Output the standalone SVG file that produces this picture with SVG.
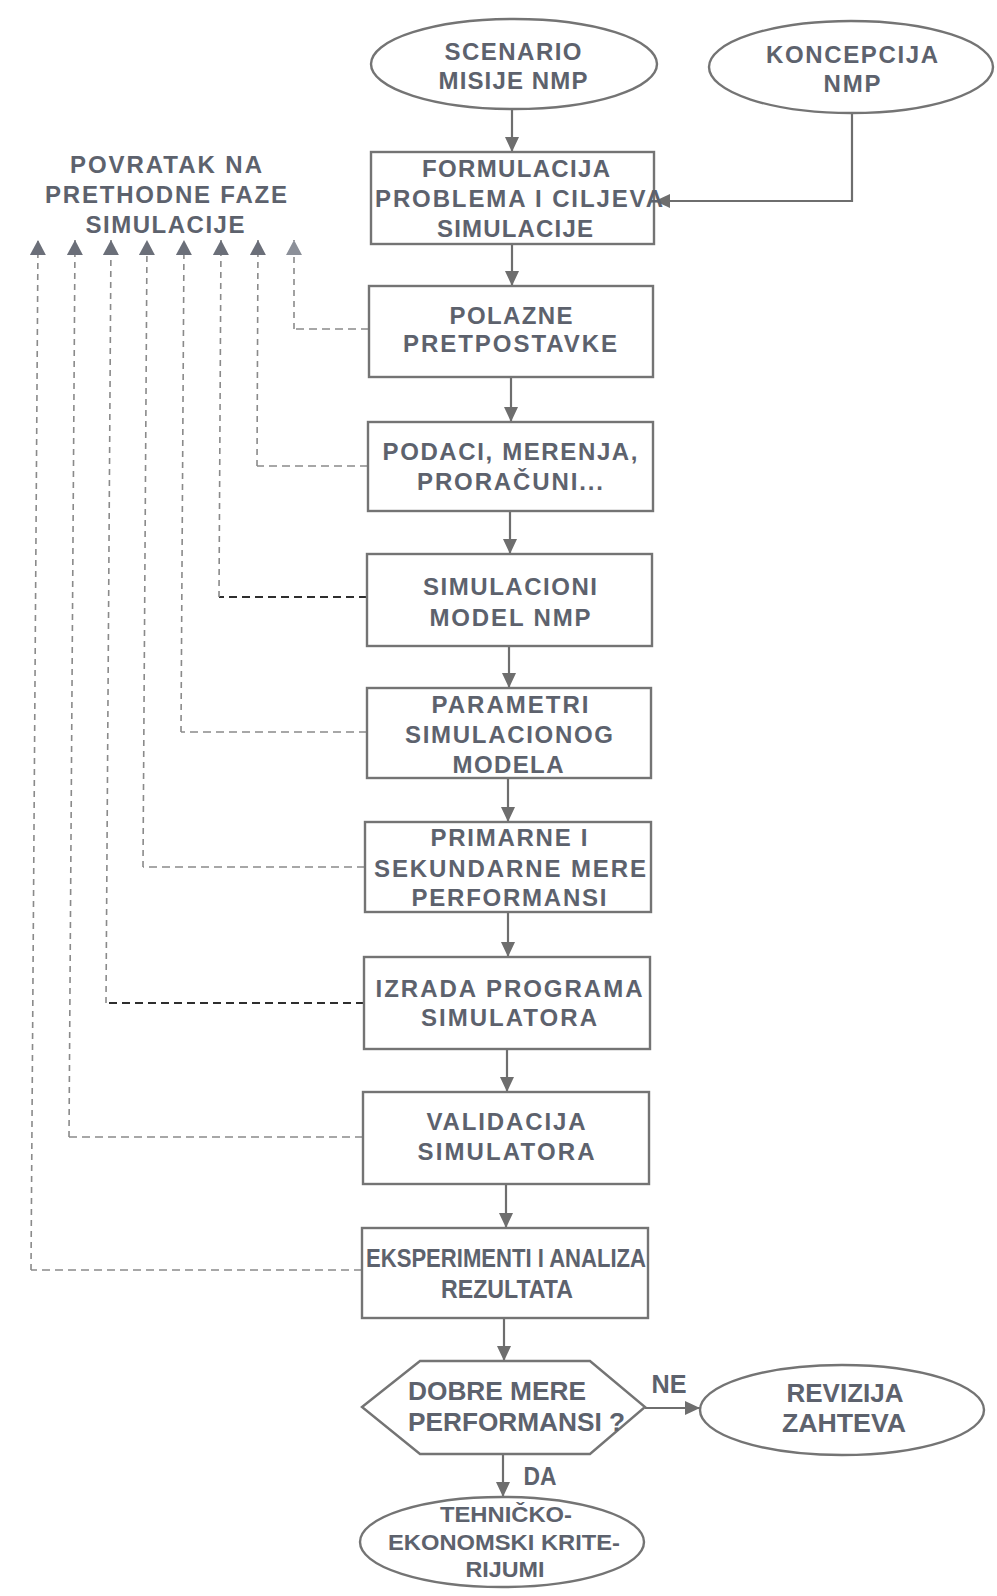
<svg xmlns="http://www.w3.org/2000/svg" width="997" height="1596" viewBox="0 0 997 1596">
<style>
.bg{fill:#fff}
.box{fill:#fff;stroke:#747474;stroke-width:2.4}
.t{font-family:"Liberation Sans",Arial,sans-serif;font-weight:bold;font-size:24px;fill:#5d626d;text-anchor:middle}
.b{font-size:25px}
.s{font-size:22px}
.ts{text-anchor:start}
.conn{stroke:#6e6e6e;stroke-width:2.2;fill:none}
.dash{stroke:#8a8a8a;stroke-width:1.6;fill:none;stroke-dasharray:6 5}
.dh{stroke:#8a8a8a;stroke-width:1.6;fill:none;stroke-dasharray:8 5}
.dark{stroke:#2e2e2e;stroke-width:1.8}
</style>
<defs>
<marker id="ah" viewBox="0 0 15 14" refX="15" refY="7" markerWidth="15" markerHeight="14" orient="auto" markerUnits="userSpaceOnUse"><path d="M0,0 L15,7 L0,14 z" fill="#6e6e6e"/></marker>
<marker id="ad" viewBox="0 0 15 16" refX="15" refY="8" markerWidth="15" markerHeight="16" orient="auto" markerUnits="userSpaceOnUse"><path d="M0,0 L15,8 L0,16 z" fill="#6b6f79"/></marker>
<marker id="adl" viewBox="0 0 15 16" refX="15" refY="8" markerWidth="15" markerHeight="16" orient="auto" markerUnits="userSpaceOnUse"><path d="M0,0 L15,8 L0,16 z" fill="#8c9099"/></marker>
</defs>
<rect class="bg" x="0" y="0" width="997" height="1596"/>

<g id="connectors">
<path class="conn" d="M512,110 V152" marker-end="url(#ah)"/>
<path class="conn" d="M852,113 V201 H655" marker-end="url(#ah)"/>
<path class="conn" d="M512,244 V286" marker-end="url(#ah)"/>
<path class="conn" d="M511,377 V422" marker-end="url(#ah)"/>
<path class="conn" d="M510,511 V554" marker-end="url(#ah)"/>
<path class="conn" d="M509,646 V688" marker-end="url(#ah)"/>
<path class="conn" d="M508,778 V822" marker-end="url(#ah)"/>
<path class="conn" d="M508,912 V957" marker-end="url(#ah)"/>
<path class="conn" d="M507,1049 V1092" marker-end="url(#ah)"/>
<path class="conn" d="M506,1184 V1228" marker-end="url(#ah)"/>
<path class="conn" d="M504,1318 V1361" marker-end="url(#ah)"/>
<path class="conn" d="M645,1408 H700" marker-end="url(#ah)"/>
<path class="conn" d="M503,1454 V1497" marker-end="url(#ah)"/>

<path class="dh" d="M369,329 H294"/>
<path class="dash" d="M294,329 V240" marker-end="url(#adl)"/>
<path class="dh" d="M368,466 H257"/>
<path class="dash" d="M257,466 L258,240" marker-end="url(#ad)"/>
<path class="dh dark" d="M367,597 H219"/>
<path class="dash" d="M219,597 L221,240" marker-end="url(#ad)"/>
<path class="dh" d="M367,732 H181"/>
<path class="dash" d="M181,732 L184,240" marker-end="url(#ad)"/>
<path class="dh" d="M365,867 H143"/>
<path class="dash" d="M143,867 L147,240" marker-end="url(#ad)"/>
<path class="dh dark" d="M364,1003 H106"/>
<path class="dash" d="M106,1003 L111,240" marker-end="url(#ad)"/>
<path class="dh" d="M363,1137 H69"/>
<path class="dash" d="M69,1137 L75,240" marker-end="url(#ad)"/>
<path class="dh" d="M362,1270 H31"/>
<path class="dash" d="M31,1270 L38,240" marker-end="url(#ad)"/>
</g>

<g id="povratak">
<text class="t" x="166" y="173" textLength="192">POVRATAK NA</text>
<text class="t" x="166" y="203" textLength="242">PRETHODNE FAZE</text>
<text class="t" x="165" y="233" textLength="159">SIMULACIJE</text>
</g>

<g id="scenario">
<ellipse class="box" cx="514" cy="64" rx="143" ry="45"/>
<text class="t" x="513" y="60" textLength="137">SCENARIO</text>
<text class="t" x="513" y="89" textLength="149">MISIJE NMP</text>
</g>

<g id="koncepcija">
<ellipse class="box" cx="851" cy="67" rx="142" ry="46"/>
<text class="t" x="852" y="63" textLength="172">KONCEPCIJA</text>
<text class="t" x="852" y="92" textLength="57">NMP</text>
</g>

<g id="formulacija">
<rect class="box" x="371" y="152" width="283" height="92"/>
<text class="t" x="516" y="177" textLength="188">FORMULACIJA</text>
<text class="t" x="519" y="207" textLength="288">PROBLEMA I CILJEVA</text>
<text class="t" x="515" y="237" textLength="156">SIMULACIJE</text>
</g>

<g id="polazne">
<rect class="box" x="369" y="286" width="284" height="91"/>
<text class="t" x="511" y="324" textLength="123">POLAZNE</text>
<text class="t" x="510" y="352" textLength="214">PRETPOSTAVKE</text>
</g>

<g id="podaci">
<rect class="box" x="368" y="422" width="285" height="89"/>
<text class="t" x="510" y="460" textLength="255">PODACI, MERENJA,</text>
<text class="t" x="510" y="490" textLength="186">PRORAČUNI...</text>
</g>

<g id="simulacioni">
<rect class="box" x="367" y="554" width="285" height="92"/>
<text class="t" x="510" y="595" textLength="174">SIMULACIONI</text>
<text class="t" x="510" y="626" textLength="161">MODEL NMP</text>
</g>

<g id="parametri">
<rect class="box" x="367" y="688" width="284" height="90"/>
<text class="t" x="510" y="713" textLength="157">PARAMETRI</text>
<text class="t" x="509" y="743" textLength="208">SIMULACIONOG</text>
<text class="t" x="508" y="773" textLength="111">MODELA</text>
</g>

<g id="primarne">
<rect class="box" x="365" y="822" width="286" height="90"/>
<text class="t" x="509" y="846" textLength="157">PRIMARNE I</text>
<text class="t" x="510" y="877" textLength="272">SEKUNDARNE MERE</text>
<text class="t" x="509" y="906" textLength="195">PERFORMANSI</text>
</g>

<g id="izrada">
<rect class="box" x="364" y="957" width="286" height="92"/>
<text class="t" x="509" y="997" textLength="267">IZRADA PROGRAMA</text>
<text class="t" x="509" y="1026" textLength="176">SIMULATORA</text>
</g>

<g id="validacija">
<rect class="box" x="363" y="1092" width="286" height="92"/>
<text class="t" x="506" y="1130" textLength="159">VALIDACIJA</text>
<text class="t" x="506" y="1160" textLength="177">SIMULATORA</text>
</g>

<g id="eksperimenti">
<rect class="box" x="362" y="1228" width="286" height="90"/>
<text class="t b" x="506" y="1267" textLength="280" lengthAdjust="spacingAndGlyphs">EKSPERIMENTI I ANALIZA</text>
<text class="t b" x="507" y="1298" textLength="132" lengthAdjust="spacingAndGlyphs">REZULTATA</text>
</g>

<g id="odluka">
<polygon class="box" points="362,1407 420,1361 590,1361 645,1407 590,1454 420,1454"/>
<text class="t b ts" x="408" y="1400" textLength="178" lengthAdjust="spacingAndGlyphs">DOBRE MERE</text>
<text class="t b ts" x="408" y="1431" textLength="217" lengthAdjust="spacingAndGlyphs">PERFORMANSI ?</text>
</g>

<g id="labels">
<text class="t b" x="669" y="1393" textLength="35" lengthAdjust="spacingAndGlyphs">NE</text>
<text class="t b" x="540" y="1485" textLength="33" lengthAdjust="spacingAndGlyphs">DA</text>
</g>

<g id="revizija">
<ellipse class="box" cx="842" cy="1410" rx="142" ry="45"/>
<text class="t b" x="845" y="1402" textLength="117" lengthAdjust="spacingAndGlyphs">REVIZIJA</text>
<text class="t b" x="844" y="1432" textLength="124" lengthAdjust="spacingAndGlyphs">ZAHTEVA</text>
</g>

<g id="tehnicko">
<ellipse class="box" cx="502" cy="1542" rx="142" ry="45"/>
<text class="t s" x="506" y="1522" textLength="132" lengthAdjust="spacingAndGlyphs">TEHNIČKO-</text>
<text class="t s" x="504" y="1550" textLength="232" lengthAdjust="spacingAndGlyphs">EKONOMSKI KRITE-</text>
<text class="t s" x="505" y="1577" textLength="79" lengthAdjust="spacingAndGlyphs">RIJUMI</text>
</g>
</svg>
